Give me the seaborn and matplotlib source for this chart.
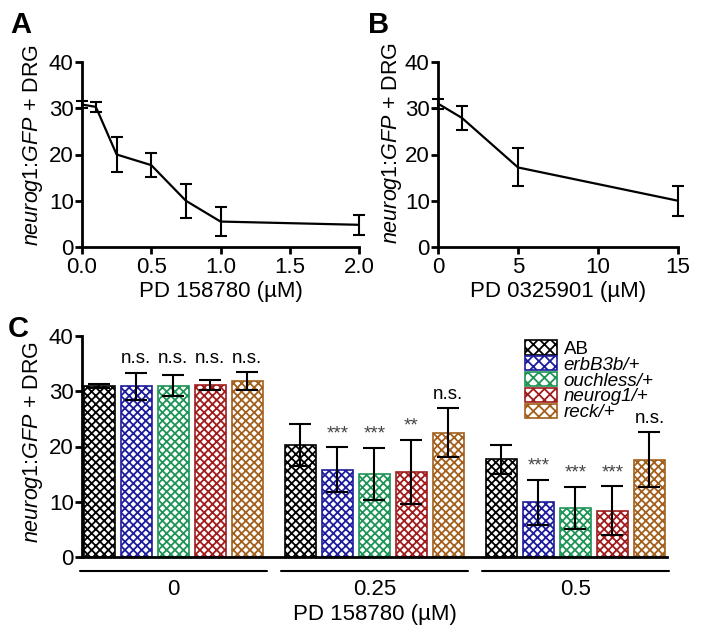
import numpy as np
import pandas as pd
import matplotlib
matplotlib.use("Agg")
import matplotlib.pyplot as plt
from matplotlib.patches import Patch
import seaborn as sns

# panel A: PD 158780 dose response
a_dose = [0, 0.1, 0.25, 0.5, 0.75, 1.0, 2.0]
a_mean = [30.8, 30.3, 20.0, 17.7, 10.0, 5.5, 4.8]
a_err = [0.8, 1.1, 3.8, 2.6, 3.7, 3.2, 2.2]

# panel B: PD 0325901 dose response
b_dose = [0, 1.5, 5, 15]
b_mean = [31.0, 27.9, 17.2, 10.0]
b_err = [1.1, 2.5, 4.1, 3.2]

# panel C: genotypes x dose
c_doses = ["0", "0.25", "0.5"]
genotypes = ["AB", "erbB3b/+", "ouchless/+", "neurog1/+", "reck/+"]
colors = ["#000000", "#1c1c9c", "#1f9457", "#a01c1c", "#a2601c"]
c_mean = {
    "AB": [31.0, 20.2, 17.7],
    "erbB3b/+": [30.9, 15.8, 9.9],
    "ouchless/+": [31.0, 15.1, 8.9],
    "neurog1/+": [31.2, 15.4, 8.4],
    "reck/+": [31.8, 22.5, 17.6],
}
c_err = {
    "AB": [0.4, 3.8, 2.6],
    "erbB3b/+": [2.4, 4.1, 4.1],
    "ouchless/+": [1.9, 4.7, 3.8],
    "neurog1/+": [0.9, 5.8, 4.4],
    "reck/+": [1.6, 4.4, 5.0],
}
c_sig = {
    "AB": ["", "", ""],
    "erbB3b/+": ["n.s.", "***", "***"],
    "ouchless/+": ["n.s.", "***", "***"],
    "neurog1/+": ["n.s.", "**", "***"],
    "reck/+": ["n.s.", "n.s.", "n.s."],
}

sns.set_style("ticks")
plt.rcParams["font.family"] = ["Liberation Sans", "DejaVu Sans"]
plt.rcParams["mathtext.fontset"] = "custom"
plt.rcParams["mathtext.it"] = "Liberation Sans:italic"
plt.rcParams["mathtext.rm"] = "Liberation Sans"
plt.rcParams["hatch.linewidth"] = 1.3
for k in ["text.color", "axes.labelcolor", "xtick.color", "ytick.color", "axes.edgecolor"]:
    plt.rcParams[k] = "black"

W, H = 702, 641
fig = plt.figure(figsize=(W / 100, H / 100), dpi=100)

ylab = r"$\mathit{neurog1}$:$\mathit{GFP}$ + DRG"
fs = 16
fs_lab = 16
fs_ylab = 15.5


def style_axes(ax):
    sns.despine(ax=ax)
    for s in ["left", "bottom"]:
        ax.spines[s].set_linewidth(2)
    ax.tick_params(width=2, length=5, labelsize=fs, pad=1)
    ax.tick_params(axis="x", pad=2)
    ax.set_ylim(0, 40)
    ax.set_yticks([0, 10, 20, 30, 40])


# ---- A
axA = fig.add_axes([82 / W, 1 - 247 / H, (359 - 82) / W, (247 - 62) / H])
dfA = pd.DataFrame({"dose": a_dose, "mean": a_mean, "err": a_err})
sns.lineplot(data=dfA, x="dose", y="mean", color="black", lw=1.6, ax=axA)
axA.errorbar(dfA["dose"], dfA["mean"], yerr=dfA["err"], fmt="none", ecolor="black",
             elinewidth=1.5, capsize=4, capthick=1.5, clip_on=False)
style_axes(axA)
axA.set_xlim(0, 2)
axA.set_xticks([0, 0.5, 1.0, 1.5, 2.0])
axA.set_xticklabels(["0.0", "0.5", "1.0", "1.5", "2.0"])
axA.set_xlabel("PD 158780 (µM)", fontsize=fs_lab, labelpad=2)
axA.set_ylabel(ylab, fontsize=fs_ylab)
axA.yaxis.set_label_coords(-0.135, 0.55)

# ---- B
axB = fig.add_axes([438 / W, 1 - 247 / H, (678 - 438) / W, (247 - 62) / H])
dfB = pd.DataFrame({"dose": b_dose, "mean": b_mean, "err": b_err})
sns.lineplot(data=dfB, x="dose", y="mean", color="black", lw=1.6, ax=axB)
axB.errorbar(dfB["dose"], dfB["mean"], yerr=dfB["err"], fmt="none", ecolor="black",
             elinewidth=1.5, capsize=4, capthick=1.5, clip_on=False)
style_axes(axB)
axB.set_xlim(0, 15)
axB.set_xticks([0, 5, 10, 15])
axB.set_xlabel("PD 0325901 (µM)", fontsize=fs_lab, labelpad=2)
axB.set_ylabel(ylab, fontsize=fs_ylab)
axB.yaxis.set_label_coords(-0.14, 0.56)

# ---- C
axC = fig.add_axes([82 / W, 1 - 557 / H, (667 - 82) / W, (557 - 336) / H])
rows = []
for g in genotypes:
    for i, d in enumerate(c_doses):
        rows.append({"dose": d, "genotype": g, "mean": c_mean[g][i],
                     "err": c_err[g][i], "sig": c_sig[g][i]})
dfC = pd.DataFrame(rows)
sns.barplot(data=dfC, x="dose", y="mean", hue="genotype", order=c_doses,
            hue_order=genotypes, palette=colors, width=0.92, gap=0.16,
            errorbar=None, legend=False, ax=axC)
hatch = "xxxx"
d0 = dfC[dfC["dose"] == "0"]
grp_max = (d0["mean"] + d0["err"]).max()
for g, col, cont in zip(genotypes, colors, axC.containers):
    sub = dfC[dfC["genotype"] == g].set_index("dose").loc[c_doses]
    xs = []
    for bar in cont:
        bar.set_facecolor("white")
        bar.set_edgecolor(col)
        bar.set_hatch(hatch)
        bar.set_linewidth(1.2)
        xs.append(bar.get_x() + bar.get_width() / 2)
    xs = np.array(xs)
    axC.errorbar(xs, sub["mean"], yerr=sub["err"], fmt="none", ecolor="black",
                 elinewidth=1.5, capsize=8, capthick=1.5, zorder=5)
    tops = (sub["mean"] + sub["err"]).values
    for k, (x, t, s) in enumerate(zip(xs, tops, sub["sig"])):
        if not s:
            continue
        y = (grp_max if k == 0 else t) + 0.9
        axC.text(x, y, s, ha="center", va="bottom", fontsize=13.5,
                 color="black" if s == "n.s." else "#444444")

style_axes(axC)
axC.set_xlim(-0.453, 2.455)
axC.tick_params(axis="x", length=0, pad=16)
axC.set_xlabel("PD 158780 (µM)", fontsize=fs_lab, labelpad=3)
axC.set_ylabel(ylab, fontsize=fs_ylab)
axC.yaxis.set_label_coords(-0.063, 0.52)
for i in range(len(c_doses)):
    axC.plot([i - 0.465, i + 0.465], [-0.063, -0.063], color="black", lw=1.5,
             transform=axC.get_xaxis_transform(), clip_on=False)

handles = [Patch(facecolor="white", edgecolor=c, hatch="xxx", lw=1.2) for c in colors]
leg = axC.legend(handles, genotypes, loc="upper left", bbox_to_anchor=(0.735, 1.04),
                 frameon=False, fontsize=13.5, handlelength=1.7, handleheight=0.8,
                 labelspacing=-0.1, handletextpad=0.35, borderpad=0.2)
for t in leg.get_texts()[1:]:
    t.set_fontstyle("italic")

# panel letters
for lab, x, y in [("A", 10, 33), ("B", 368, 33), ("C", 8, 337)]:
    fig.text(x / W, 1 - y / H, lab, fontsize=21, fontweight="bold", ha="left", va="baseline")

fig.savefig("out.png", dpi=100)
